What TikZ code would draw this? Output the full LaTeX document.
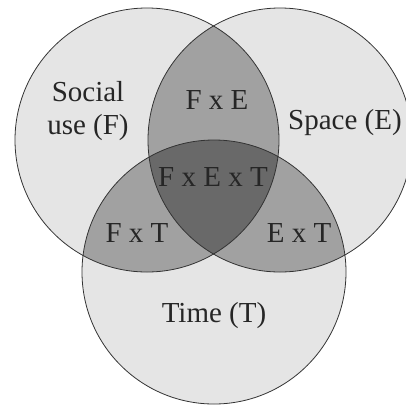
\documentclass[tikz,border=0pt]{standalone}
\usepackage{fontspec}
\setmainfont{Liberation Serif}
\begin{document}
\begin{tikzpicture}[x=1pt,y=-1pt,
    setlabel/.style={font=\fontsize{29}{33}\selectfont, text=black!85, align=center, inner sep=0pt},
    ring/.style={draw=black!80, line width=0.8pt}
]
\useasboundingbox (0,0) rectangle (406,405);
\def\rad{132pt}

% circle centres
\coordinate (F) at (147,140);
\coordinate (E) at (280,140);
\coordinate (T) at (214,272);

% single sets
\fill[black!10] (F) circle (\rad);
\fill[black!10] (E) circle (\rad);
\fill[black!10] (T) circle (\rad);

% pairwise overlaps
\begin{scope}
  \clip (F) circle (\rad);
  \fill[black!37] (E) circle (\rad);
  \fill[black!37] (T) circle (\rad);
\end{scope}
\begin{scope}
  \clip (E) circle (\rad);
  \fill[black!37] (T) circle (\rad);
\end{scope}

% triple overlap
\begin{scope}
  \clip (F) circle (\rad);
  \clip (E) circle (\rad);
  \fill[black!59] (T) circle (\rad);
\end{scope}

% outlines
\draw[ring] (F) circle (\rad);
\draw[ring] (E) circle (\rad);
\draw[ring] (T) circle (\rad);

% labels
\node[setlabel] (social) at (88,111) {Social\\use (F)};
\node[setlabel] (space) at (345,123) {Space (E)};
\node[setlabel] (time) at (214,316) {Time (T)};
\node[setlabel] (fe) at (217,100) {F x E};
\node[setlabel] (ft) at (137,233) {F x T};
\node[setlabel] (et) at (299,233) {E x T};
\node[setlabel] (fet) at (213,177) {F x E x T};

\end{tikzpicture}
\end{document}
